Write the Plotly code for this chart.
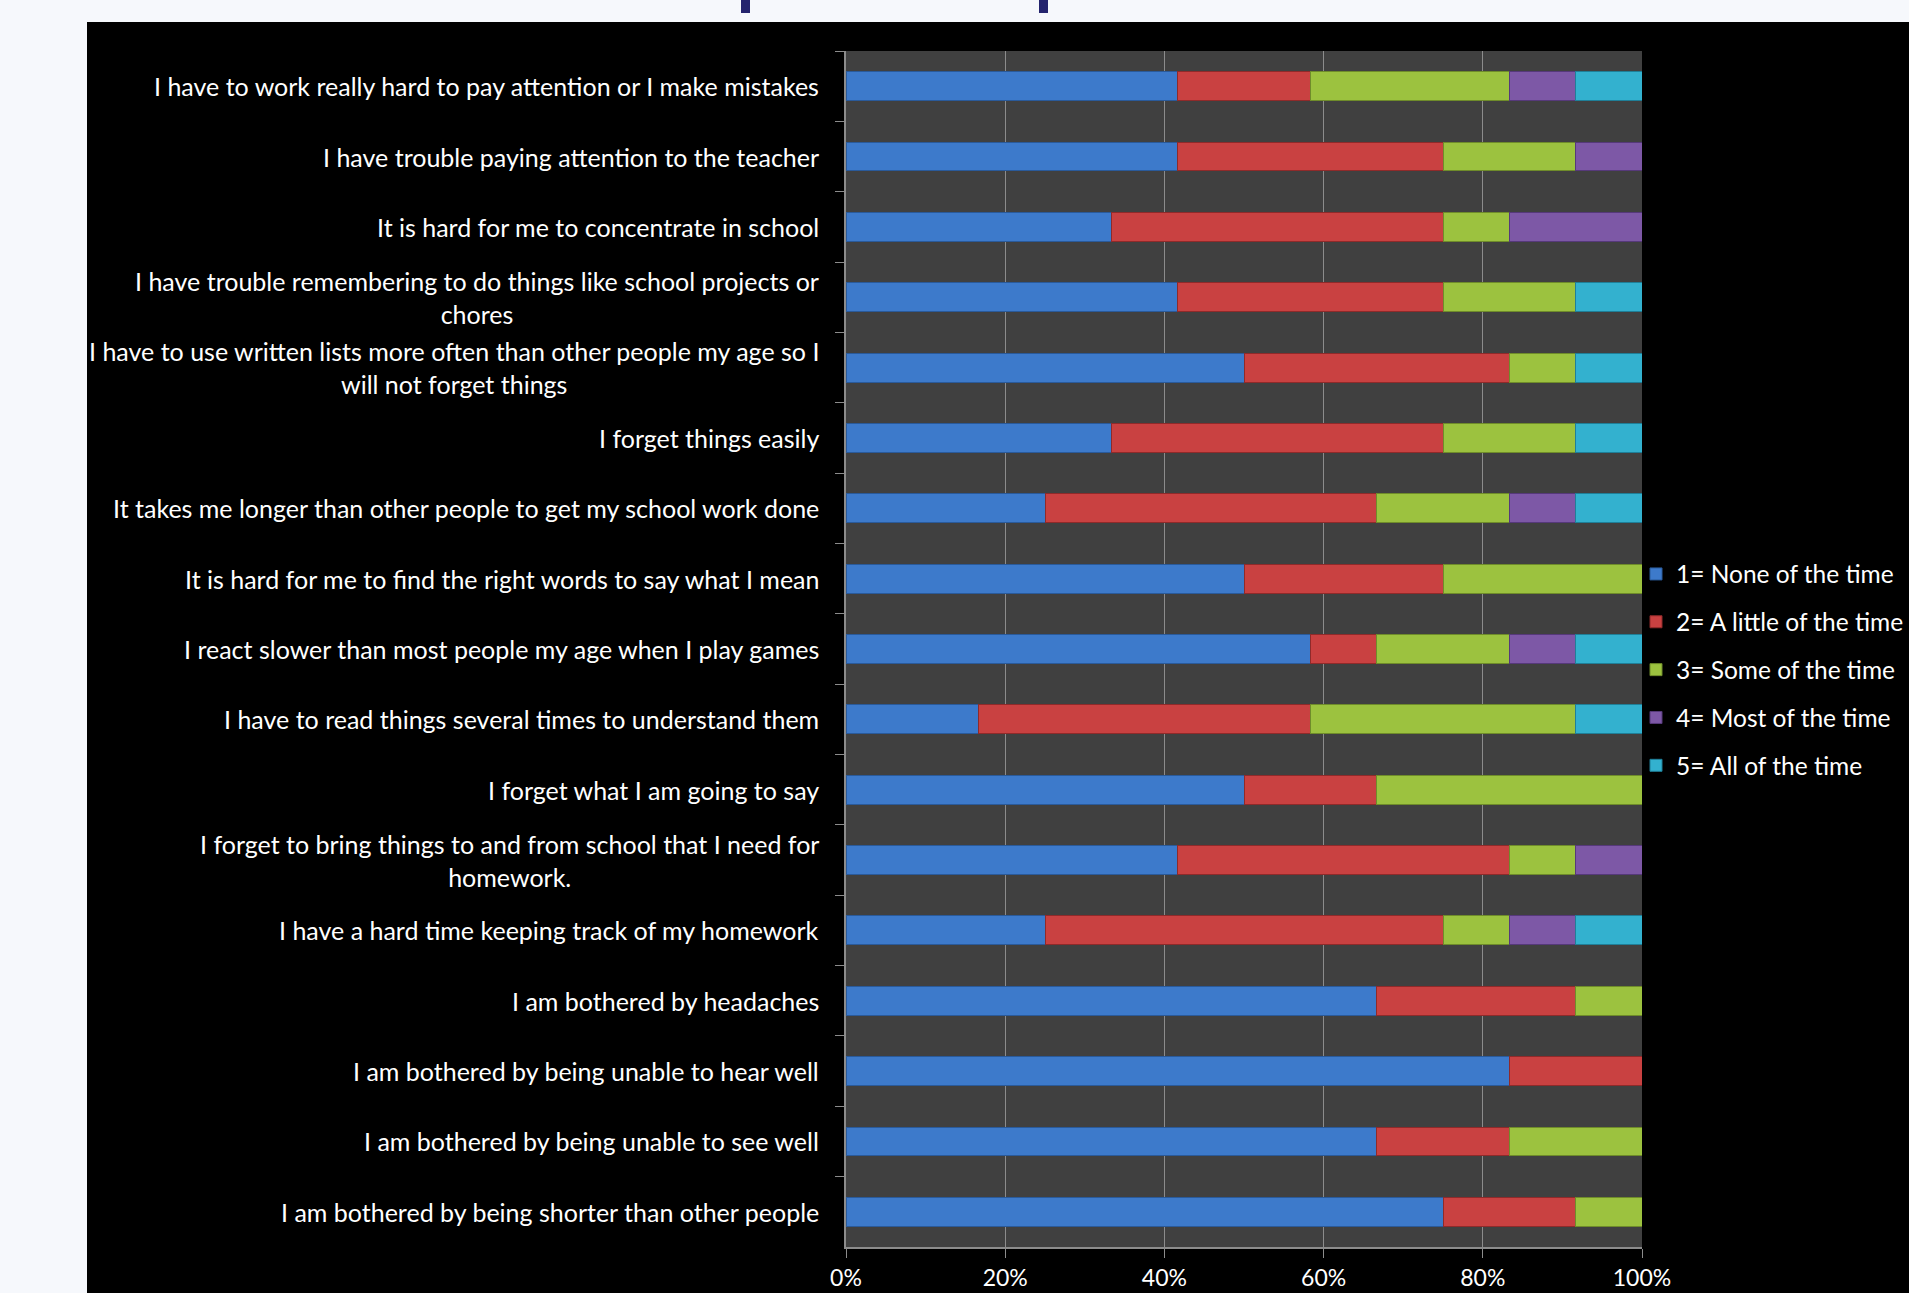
import plotly.graph_objects as go

# ---------------- data ----------------
categories = [
    "I have to work really hard to pay attention or I make mistakes",
    "I have trouble paying attention to the teacher",
    "It is hard for me to concentrate in school",
    "I have trouble remembering to do things like school projects or<br>chores",
    "I have to use written lists more often than other people my age so I<br>will not forget things",
    "I forget things easily",
    "It takes me longer than other people to get my school work done",
    "It is hard for me to find the right words to say what I mean",
    "I react slower than most people my age when I play games",
    "I have to read things several times to understand them",
    "I forget what I am going to say",
    "I forget to bring things to and from school that I need for<br>homework.",
    "I have a hard time keeping track of my homework",
    "I am bothered by headaches",
    "I am bothered by being unable to hear well",
    "I am bothered by being unable to see well",
    "I am bothered by being shorter than other people",
]

series_names = [
    "1= None of the time",
    "2= A little of the time",
    "3= Some of the time",
    "4= Most of the time",
    "5= All of the time",
]

# percentages of respondents
none_of_time = [41.7, 41.7, 33.3, 41.7, 50.0, 33.3, 25.0, 50.0, 58.3, 16.7, 50.0, 41.7, 25.0, 66.7, 83.3, 66.7, 75.0]
little_of_time = [16.7, 33.3, 41.7, 33.3, 33.3, 41.7, 41.7, 25.0, 8.3, 41.7, 16.7, 41.7, 50.0, 25.0, 16.7, 16.7, 16.7]
some_of_time = [25.0, 16.7, 8.3, 16.7, 8.3, 16.7, 16.7, 25.0, 16.7, 33.3, 33.3, 8.3, 8.3, 8.3, 0.0, 16.7, 8.3]
most_of_time = [8.3, 8.3, 16.7, 0.0, 0.0, 0.0, 8.3, 0.0, 8.3, 0.0, 0.0, 8.3, 8.3, 0.0, 0.0, 0.0, 0.0]
all_of_time = [8.3, 0.0, 0.0, 8.3, 8.3, 8.3, 8.3, 0.0, 8.3, 8.3, 0.0, 0.0, 8.3, 0.0, 0.0, 0.0, 0.0]

series_values = [none_of_time, little_of_time, some_of_time, most_of_time, all_of_time]
series_colors = ["#3d7acb", "#c94141", "#9cc23f", "#7d58a6", "#33b1cf"]
series_edges = ["#2a5a9a", "#8f2a2a", "#6f8c2a", "#56397a", "#1f7f98"]

x_ticks = [0, 20, 40, 60, 80, 100]
x_tick_labels = ["0%", "20%", "40%", "60%", "80%", "100%"]

# ---------------- layout geometry ----------------
W, H = 1909, 1293
L, R, T, B = 846, 1642, 51, 1247   # plot area in pixels
pw, ph = R - L, B - T


def px(xpix):
    return (xpix - L) / pw


def py(ypix):
    return (B - ypix) / ph


FONT = "Lato, 'Open Sans', sans-serif"

fig = go.Figure()
for i, (name, vals) in enumerate(zip(series_names, series_values)):
    fig.add_trace(go.Bar(
        y=categories,
        x=vals,
        name=name,
        orientation="h",
        width=0.41,
        marker=dict(color=series_colors[i], line=dict(color=series_edges[i], width=1)),
        legendgroup=f"g{i}",
    ))

shapes = [
    # light page background around the black chart area
    dict(type="rect", xref="paper", yref="paper", x0=px(-5), x1=px(87), y0=py(H + 5), y1=py(-5),
         fillcolor="#f6f8fc", line=dict(width=0), layer="below"),
    dict(type="rect", xref="paper", yref="paper", x0=px(-5), x1=px(W + 5), y0=py(22), y1=py(-5),
         fillcolor="#f6f8fc", line=dict(width=0), layer="below"),
    # remnants of the title glyphs above
    dict(type="rect", xref="paper", yref="paper", x0=px(741), x1=px(750), y0=py(13), y1=py(-5),
         fillcolor="#24246e", line=dict(width=0), layer="below"),
    dict(type="rect", xref="paper", yref="paper", x0=px(1039), x1=px(1048), y0=py(13), y1=py(-5),
         fillcolor="#24246e", line=dict(width=0), layer="below"),
]

annotations = []
for cat in categories:
    annotations.append(dict(
        x=px(821), xref="paper", y=cat, yref="y",
        text=cat, showarrow=False, xanchor="right", yanchor="middle", align="center",
        font=dict(family=FONT, size=25, color="white"),
    ))

fig.update_layout(
    width=W, height=H,
    barmode="stack",
    barnorm="percent",
    paper_bgcolor="black",
    plot_bgcolor="#404040",
    margin=dict(l=L, r=W - R, t=T, b=H - B, autoexpand=False),
    font=dict(family=FONT, size=25, color="white"),
    shapes=shapes,
    annotations=annotations,
    showlegend=True,
    legend=dict(
        x=px(1636), y=py(670), xanchor="left", yanchor="middle",
        traceorder="grouped", tracegroupgap=13,
        font=dict(family=FONT, size=24.5, color="white"),
        bgcolor="rgba(0,0,0,0)",
    ),
    xaxis=dict(
        range=[0, 100], tickvals=x_ticks, ticktext=x_tick_labels,
        showgrid=True, gridcolor="#8c8c8c", gridwidth=1,
        zeroline=False, showline=True, linecolor="#8c8c8c", linewidth=2,
        ticks="outside", ticklen=9, tickcolor="#8c8c8c", tickwidth=1,
        ticklabelstandoff=0,
        tickfont=dict(family=FONT, size=23, color="white"),
        fixedrange=True,
    ),
    yaxis=dict(
        categoryorder="array", categoryarray=categories,
        autorange="reversed",
        showticklabels=False,
        showgrid=False, zeroline=False,
        showline=True, linecolor="#8c8c8c", linewidth=2,
        ticks="outside", tickson="boundaries", ticklen=9, tickcolor="#8c8c8c", tickwidth=1,
    ),
)

fig.write_html(
    "out.html",
    config={"displayModeBar": False},
    post_script="document.body.style.margin='0';document.body.style.overflow='hidden';",
)
